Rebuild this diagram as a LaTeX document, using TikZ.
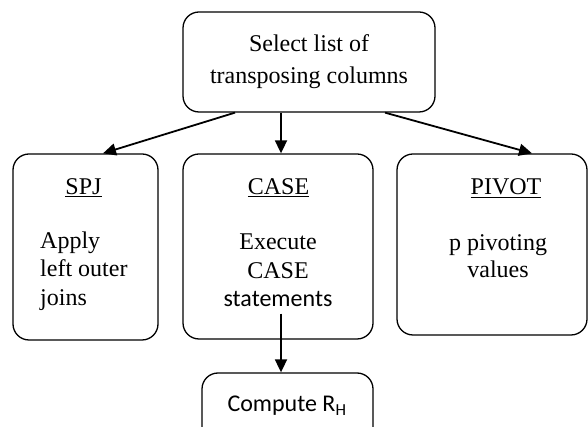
\documentclass[tikz,border=0pt]{standalone}
\usepackage{fontspec}
\setmainfont{Liberation Serif}
\newfontfamily\calfont{Carlito}
\usetikzlibrary{arrows.meta,positioning}

\begin{document}
\begin{tikzpicture}[x=1pt,y=1pt,
    box/.style={draw, line width=1.3pt, rounded corners=16pt, inner sep=0pt},
    txt/.style={font=\fontsize{24}{32}\selectfont, inner sep=0pt},
    arr/.style={line width=1.8pt, -{Triangle[length=13pt,width=12pt]}}]
    \def\W{588} % picture width
    \def\H{427} % picture height
    \clip (0,0) rectangle (\W,\H);

    % Top box
    \node[box, txt, align=center, minimum width=252pt, minimum height=100pt] (sel) at (309,365)
        {Select list of\\transposing columns};

    % Three method boxes
    \node[box, minimum width=145pt, minimum height=186pt] (spj) at (85.5,180) {};
    \node[box, minimum width=190pt, minimum height=185pt] (case) at (278,180.5) {};
    \node[box, minimum width=190pt, minimum height=181pt] (pivot) at (492,182.5) {};

    % Bottom box, cut by the lower edge
    \node[box, minimum width=171pt, minimum height=90pt] (comp) at (287.5,9) {};

    % Texts
    \node[txt, anchor=base] (spjhead) at (83.5,232) {\underline{SPJ}};
    \node[txt, anchor=north west, align=left, font=\fontsize{24}{28.5}\selectfont] (spjbody) at (40,195.5)
        {Apply\\left outer\\joins};
    \node[txt, anchor=base] (casehead) at (278.5,232) {\underline{CASE}};
    \node[txt, anchor=north, align=center, font=\fontsize{24}{28.5}\selectfont] (casebody) at (278,193)
        {Execute\\CASE\\{\calfont statements}};
    \node[txt, anchor=base] (pivothead) at (506,232) {\underline{PIVOT}};
    \node[txt, anchor=north, align=center, font=\fontsize{24}{27}\selectfont] (pivotbody) at (498,193)
        {p pivoting\\values};
    \node[txt, anchor=base, font=\fontsize{24}{28}\calfont] (comptext) at (287,15)
        {Compute R\textsubscript{H}};

    % Arrows
    \draw[arr] ([xshift=-74pt]sel.south) -- ([xshift=17.5pt]spj.north);
    \draw[arr] ([xshift=-28pt]sel.south) -- ([xshift=3pt]case.north);
    \draw[arr] ([xshift=76pt]sel.south) -- ([xshift=40pt]pivot.north);
    \draw[arr] ([xshift=3pt,yshift=26pt]case.south) -- ([xshift=-6.5pt]comp.north);
\end{tikzpicture}
\end{document}
